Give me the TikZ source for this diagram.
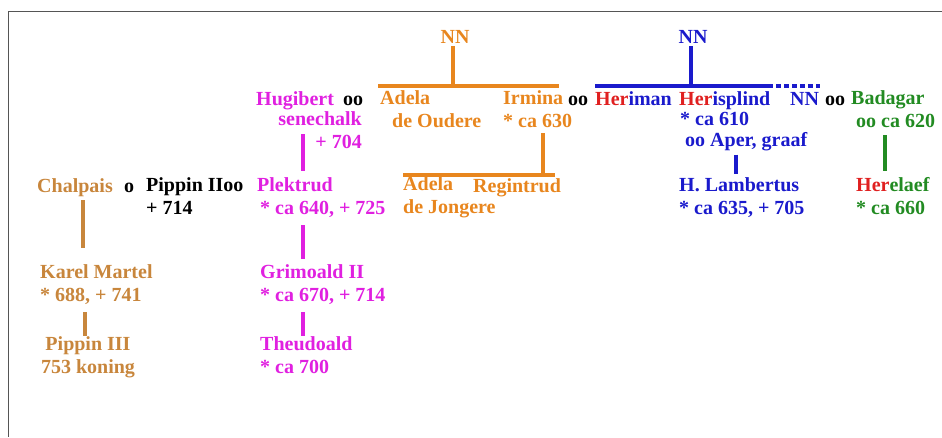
\documentclass[tikz,border=0pt]{standalone}
\usepackage{fontspec}
\setmainfont{Liberation Serif}
\usepackage{xcolor}
\usetikzlibrary{positioning}
\definecolor{TanBrown}{HTML}{C8863C}
\definecolor{FamOrange}{HTML}{E8861E}
\definecolor{FamMagenta}{HTML}{E020E0}
\definecolor{FamBlue}{HTML}{1A1ACC}
\definecolor{HerRed}{HTML}{E02020}
\definecolor{FamGreen}{HTML}{228B22}
\definecolor{FrameGray}{HTML}{555555}
\newcommand{\her}{\textcolor{HerRed}{Her}}

\tikzset{
  person/.style={font=\bfseries\fontsize{20}{22.5}\selectfont, inner sep=0pt,
                 anchor=base west, align=left},
  kin/.style={line width=3.2pt},
}

\begin{document}
\begin{tikzpicture}[x=1pt, y=-1pt]
\useasboundingbox (0,0) rectangle (942,437);
\draw[FrameGray, line width=0.8pt] (942,11) -| (8,437);

% Karolingers (two-line nodes sit on their last line)
\node[person, text=TanBrown] (chalpais) at (37,192) {Chalpais};
\node[person] (o1) at (124,192) {o};
\node[person] (pippin) at (146,214) {Pippin IIoo\\+ 714};
\node[person, text=TanBrown] (karel) at (40,301) {Karel Martel\\* 688, + 741};
\node[person, text=TanBrown, anchor=base, align=center] (pippin3) at (88,373) {Pippin III\\753 koning};

% Plektrud and her line
\node[person, text=FamMagenta] (hugibert) at (256,105) {Hugibert};
\node[person] (oo1) at (343,105) {oo};
\node[person, text=FamMagenta, anchor=base east, align=right] (senechalk) at (362,148) {senechalk\\+ 704};
\node[person, text=FamMagenta] (plektrud) at (257,214) {Plektrud\\\hspace*{3pt}* ca 640, + 725};
\node[person, text=FamMagenta] (grimoald) at (260,301) {Grimoald II\\* ca 670, + 714};
\node[person, text=FamMagenta] (theudoald) at (260,373) {Theudoald\\* ca 700};

% orange family
\node[person, text=FamOrange, anchor=base] (nnorange) at (455,43) {NN};
\node[person, text=FamOrange] (adela) at (380,127) {Adela\\\hspace*{12pt}de Oudere};
\node[person, text=FamOrange] (irmina) at (503,127) {Irmina\\* ca 630};
\node[person] (oo2) at (568,105) {oo};
\node[person, text=FamOrange] (adelaj) at (403,213) {Adela\\de Jongere};
\node[person, text=FamOrange] (regintrud) at (473,192) {Regintrud};

% blue family
\node[person, text=FamBlue, anchor=base] (nnblue) at (693,43) {NN};
\node[person, text=FamBlue] (heriman) at (595,105) {\her iman};
\node[person, text=FamBlue] (herisplind) at (679,105) {\her isplind};
\node[person, text=FamBlue] (ca610) at (680,125) {* ca 610};
\node[person, text=FamBlue] (aper) at (685,146) {oo Aper, graaf};
\node[person, text=FamBlue] (lambertus) at (679,214) {H. Lambertus\\* ca 635, + 705};
\node[person, text=FamBlue] (nnblue2) at (790,105) {NN};
\node[person] (oo3) at (825,105) {oo};

% green family
\node[person, text=FamGreen] (badagar) at (851,127) {Badagar\\\hspace*{5pt}oo ca 620};
\node[person, text=FamGreen] (herelaef) at (856,214) {\her elaef\\* ca 660};

% bars
\coordinate (obarL) at (378,86);
\coordinate (obarR) at (559,86);
\coordinate (lbarL) at (403,175);
\coordinate (lbarR) at (555,175);
\coordinate (bbarL) at (595,86);
\coordinate (bbarM) at (768,86);
\coordinate (bbarR) at (820,86);

\draw[kin, FamOrange] (obarL) -- (obarR);
\draw[kin, FamOrange] (nnorange.south -| 453,0) ++(0,3) -- (obarL -| 453,0);
\draw[kin, FamOrange] (lbarL) -- (lbarR);
\draw[kin, FamOrange] (irmina.south -| 543,0) ++(0,6) -- (lbarR -| 543,0);
\draw[kin, FamBlue] (bbarL) -- (bbarM);
\draw[kin, FamBlue, dash pattern=on 5pt off 3pt] (bbarM) -- (bbarR);
\draw[kin, FamBlue] (nnblue.south -| 691,0) ++(0,3) -- (bbarL -| 691,0);

% descent lines
\draw[kin, TanBrown, shorten >=16pt] (chalpais.south -| 83,0) ++(0,4) -- (karel.north -| 83,0);
\draw[kin, TanBrown] (karel.south -| 85,0) ++(0,8) -- (pippin3.north -| 85,0);
\draw[kin, FamMagenta, shorten >=6pt] (senechalk.south -| 303,0) ++(0,-14) -- (plektrud.north -| 303,0);
\draw[kin, FamMagenta, shorten >=5pt] (plektrud.south -| 303,0) ++(0,8) -- (grimoald.north -| 303,0);
\draw[kin, FamMagenta] (grimoald.south -| 303,0) ++(0,8) -- (theudoald.north -| 303,0);
\draw[kin, FamBlue, shorten >=3pt] (aper.south -| 736,0) ++(0,4) -- (lambertus.north -| 736,0);
\draw[kin, FamGreen, shorten >=6pt] (badagar.south -| 885,0) ++(0,8) -- (herelaef.north -| 885,0);
\end{tikzpicture}
\end{document}
